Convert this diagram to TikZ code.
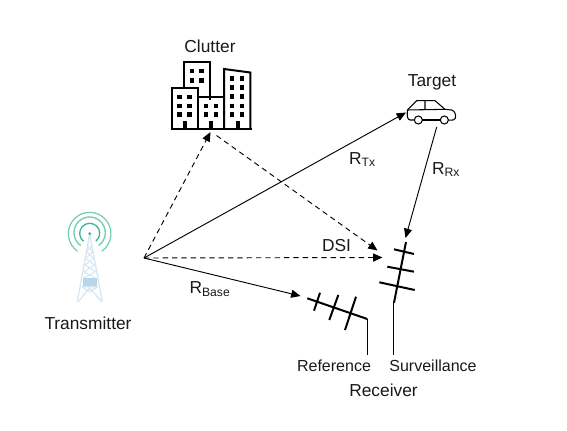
\documentclass[tikz,border=0pt]{standalone}
\usepackage{fontspec}
\setmainfont{Liberation Sans}
\usetikzlibrary{arrows.meta}
\definecolor{towerblue}{HTML}{D3E6F2}
\definecolor{towerfill}{HTML}{B7D6E8}
\definecolor{arcgreen}{HTML}{74CDB0}
\definecolor{arcteal}{HTML}{45B39A}
\definecolor{tipblue}{HTML}{3A9AD9}
\tikzset{
  lbl/.style={inner sep=0pt,font=\fontsize{13}{15}\selectfont,text=black!90},
  lblsmall/.style={inner sep=0pt,font=\fontsize{12}{14}\selectfont,text=black!90},
  sig/.style={line width=0.7pt,-{Triangle[length=7pt,width=6pt]}},
  sigdash/.style={sig,dash pattern=on 4pt off 3pt},
  antenna/.style={line width=1.5pt},
  feed/.style={line width=0.8pt},
  bld/.style={line width=1.5pt,fill=white,line join=miter},
}
\newcommand{\winrow}[3]{\fill (#1-2.2,#3-2.2) rectangle ++(4.4,4.4); \fill (#2-2.2,#3-2.2) rectangle ++(4.4,4.4);}
\begin{document}
\begin{tikzpicture}[x=0.75pt,y=-0.75pt]
\useasboundingbox (0,0) rectangle (567,431);
\fill[white] (0,0) rectangle (567,431);

% tower
\begin{scope}[shift={(40,190)},scale=1/3]
 \draw[towerblue,line width=0.9pt] (149,132)--(112,335) (149,132)--(187,335);
 \draw[towerblue,line width=0.7pt] (141,165)--(158,185)--(137,205)--(163,225)--(132,245)--(168,265);
 \draw[towerblue,line width=0.7pt] (157,165)--(140,185)--(161,205)--(135,225)--(166,245)--(130,265);
 \fill[towerfill] (128,265) rectangle (170,290);
 \draw[towerblue,line width=0.9pt] (125,290)--(172,290) (125,290)--(149,305)--(174,290) (149,293)--(115,335) (149,293)--(185,335);
 \fill[tipblue] (149,131) circle[radius=4.5];
 \draw[arcteal,line width=1pt] ([shift={(128:30)}]149,130) arc[start angle=128,end angle=412,radius=30];
 \draw[arcgreen,line width=1pt] ([shift={(125:47)}]149,128) arc[start angle=125,end angle=415,radius=47];
 \draw[arcgreen,line width=0.9pt] ([shift={(125:64)}]149,131) arc[start angle=125,end angle=415,radius=64];
\end{scope}
\node[lbl] (tx) at (88,323) {Transmitter};

% clutter
\node[lbl] (clutterlabel) at (210,46) {Clutter};
\draw[bld] (183.5,90) -- (183.5,62.5) -- (210,62.5) -- (210,100);
\draw[bld] (224,129.3) -- (224,69) -- (250.3,72.5) -- (250.3,129.3);
\draw[bld] (171.5,129.3) -- (171.5,88.5) -- (198,88.5) -- (198,129.3);
\draw[bld] (198,97.5) -- (224,97.5);
\draw[line width=1.8pt] (170.5,129.3) -- (251.5,129.3);
\foreach \y in {71,80.5} {\winrow{192}{201.5}{\y}}
\foreach \y in {97,106,114.5} {\winrow{179.5}{189.5}{\y}}
\foreach \y in {106,114.5} {\winrow{206}{216}{\y}}
\foreach \y in {78.5,87.5,96.5,106,114.5} {\winrow{232}{242}{\y}}
\fill (183,121.5) rectangle (187,129.3);
\fill (209,121.5) rectangle (213,129.3);
\fill (236,121.5) rectangle (240,129.3);

% target
\node[lbl] (targetlabel) at (432,82.5) {Target};
\begin{scope}[shift={(390,60)},scale=1/3,line width=0.8pt]
 \draw (73,180) -- (60,180) .. controls (52,178) and (51,170) .. (52,150) -- (80,122) -- (135,122) -- (165,148) -- (185,150) .. controls (196,152) and (198,168) .. (196,175) .. controls (195,180) and (188,181) .. (175,180);
 \draw (97,180) -- (151,180);
 \draw (52,150) -- (165,148) (105,122) -- (105,148);
 \draw (85,180) circle[radius=12] (163,180) circle[radius=12];
\end{scope}

% surveillance antenna
\coordinate (s1) at (406,242);
\coordinate (s2) at (394,302.7);
\draw[antenna] (s1) -- (s2);
\draw[antenna] (394,249.3)--(414,254) (387.3,266.7)--(414,271.7) (379.3,282.3)--(414.7,290);
\coordinate (s3) at (393.3,355);
\draw[feed] (393.3,302) -- (s3);

% reference antenna
\coordinate (r1) at (307.3,298.3);
\coordinate (r2) at (367.3,319);
\draw[antenna] (r1) -- (r2);
\draw[antenna] (320,292.7)--(314,310.7) (338.3,295)--(329.3,320) (356,296.7)--(345,330);
\coordinate (r3) at (367.3,354.5);
\draw[feed] (r2) -- (r3);

\node[lblsmall] (refl) at (334,365.5) {Reference};
\node[lblsmall] (survl) at (433,366) {Surveillance};
\node[lbl] (rxl) at (383.5,390) {Receiver};

% signal paths
\coordinate (o) at (144,258);
\coordinate (cl) at (210.5,132);
\coordinate (cl2) at (216.5,135.5);
\coordinate (tg) at (406,112.5);
\coordinate (tg2) at (436.7,127);
\coordinate (dsi) at (382.5,257.5);
\coordinate (sc) at (377.5,250.5);
\coordinate (st) at (405.5,238);
\coordinate (rf) at (300.5,296);
\draw[sigdash] (o) -- (cl);
\draw[sig] (o) -- (tg);
\draw[sigdash] (o) -- (dsi);
\draw[sig] (o) -- (rf);
\draw[sigdash] (cl2) -- (sc);
\draw[sig] (tg2) -- (st);

\node[lbl] (rtx) at (362.5,159.5) {R\textsubscript{Tx}};
\node[lbl] (rrx) at (446,169.5) {R\textsubscript{Rx}};
\node[lbl] (dsil) at (336.5,245.5) {DSI};
\node[lbl] (rbase) at (210,289) {R\textsubscript{Base}};
\end{tikzpicture}
\end{document}
